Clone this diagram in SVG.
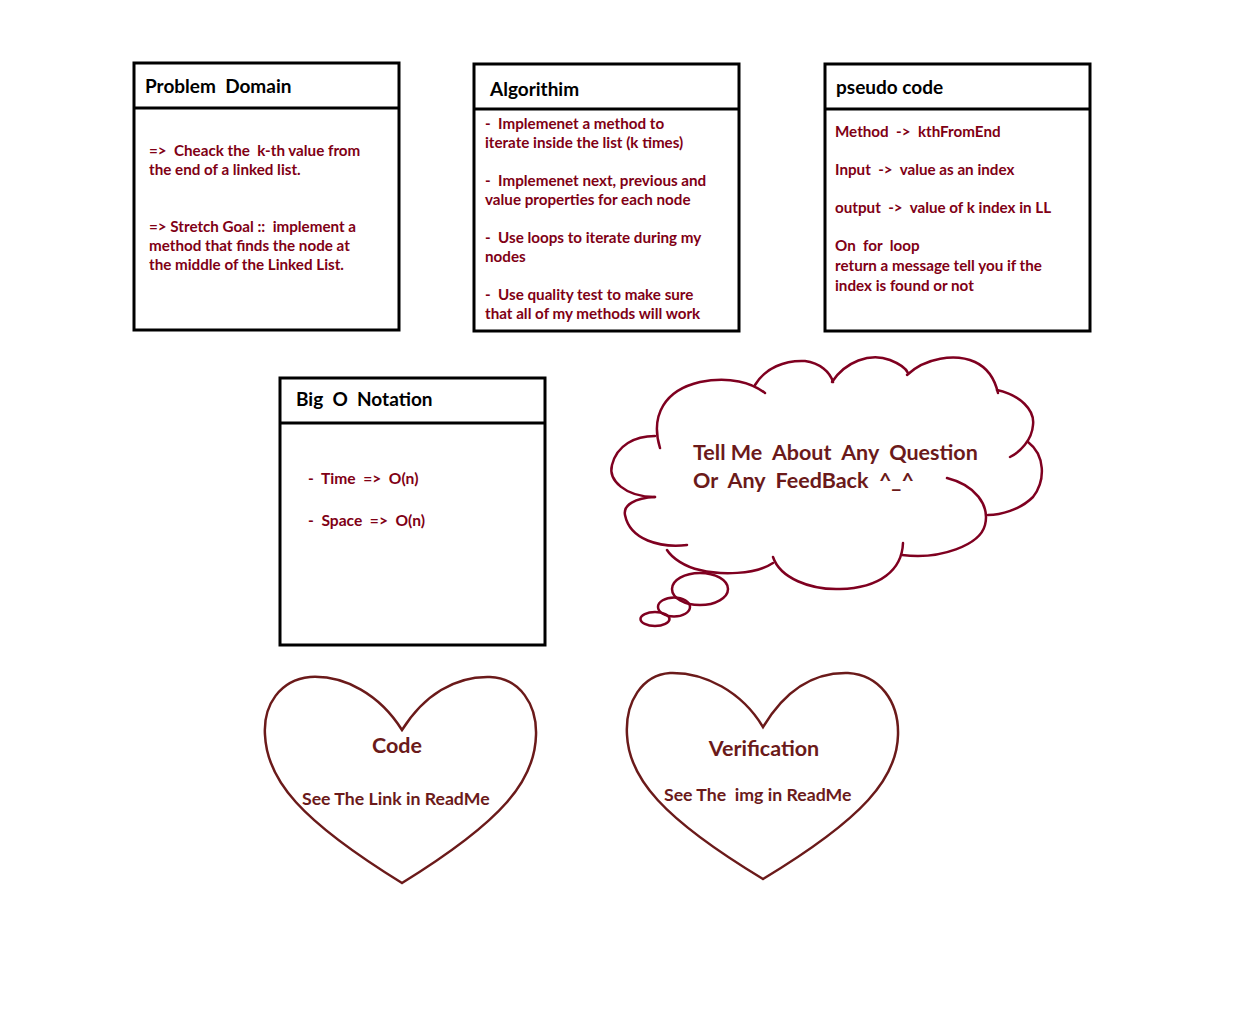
<svg xmlns="http://www.w3.org/2000/svg" width="1248" height="1024" viewBox="0 0 1248 1024">
  <style>
    text { font-family: Lato, "Open Sans", "Liberation Sans", sans-serif; font-weight: bold; white-space: pre; }
    .box { fill: #ffffff; stroke: #000000; stroke-width: 3; }
    .rule { stroke: #000000; stroke-width: 3; }
    .title { font-size: 19px; fill: #000000; }
    .body { font-size: 15.2px; fill: #800015; }
    .bigo { font-size: 15.6px; fill: #800015; }
    .cloud { fill: none; stroke: #7f0020; stroke-width: 2.5; stroke-linecap: round; }
    .heart { fill: none; stroke: #6b1a1a; stroke-width: 2.5; stroke-linejoin: miter; }
    .big { font-size: 21.5px; fill: #6b1a1a; }
    .sub { font-size: 17.7px; fill: #6b1a1a; }
  </style>
  <rect width="1248" height="1024" fill="#ffffff"/>

  <g id="problem-domain">
    <rect class="box" x="134" y="63" width="265" height="267"/>
    <line class="rule" x1="134" y1="108" x2="399" y2="108"/>
    <text class="title" x="145" y="93">Problem  Domain</text>
    <text class="body" x="149" y="156">=&gt;  Cheack the  k-th value from</text>
    <text class="body" x="149" y="175">the end of a linked list.</text>
    <text class="body" x="149" y="232">=&gt; Stretch Goal ::  implement a</text>
    <text class="body" x="149" y="251">method that finds the node at</text>
    <text class="body" x="149" y="270">the middle of the Linked List.</text>
  </g>

  <g id="algorithm">
    <rect class="box" x="474" y="64" width="265" height="267"/>
    <line class="rule" x1="474" y1="109" x2="739" y2="109"/>
    <text class="title" x="490" y="96">Algorithim</text>
    <text class="body" x="485" y="129">-  Implemenet a method to</text>
    <text class="body" x="485" y="148">iterate inside the list (k times)</text>
    <text class="body" x="485" y="186">-  Implemenet next, previous and</text>
    <text class="body" x="485" y="205">value properties for each node</text>
    <text class="body" x="485" y="243">-  Use loops to iterate during my</text>
    <text class="body" x="485" y="262">nodes</text>
    <text class="body" x="485" y="300">-  Use quality test to make sure</text>
    <text class="body" x="485" y="319">that all of my methods will work</text>
  </g>

  <g id="pseudo-code">
    <rect class="box" x="825" y="64" width="265" height="267"/>
    <line class="rule" x1="825" y1="109" x2="1090" y2="109"/>
    <text class="title" x="836" y="94">pseudo code</text>
    <text class="body" x="835" y="137">Method  -&gt;  kthFromEnd</text>
    <text class="body" x="835" y="175">Input  -&gt;  value as an index</text>
    <text class="body" x="835" y="213">output  -&gt;  value of k index in LL</text>
    <text class="body" x="835" y="251">On  for  loop</text>
    <text class="body" x="835" y="271">return a message tell you if the</text>
    <text class="body" x="835" y="291">index is found or not</text>
  </g>

  <g id="big-o">
    <rect class="box" x="280" y="378" width="265" height="267"/>
    <line class="rule" x1="280" y1="423" x2="545" y2="423"/>
    <text class="title" x="296" y="406">Big  O  Notation</text>
    <text class="bigo" x="308" y="484">-  Time  =&gt;  O(n)</text>
    <text class="bigo" x="308" y="526">-  Space  =&gt;  O(n)</text>
  </g>

  <g id="feedback-cloud">
    <path class="cloud" d="M660,448 C650,415 665,390 700,382 C730,376 752,383 765,393"/>
    <path class="cloud" d="M755,385 C765,368 785,360 805,361 C820,363 830,372 833,382"/>
    <path class="cloud" d="M832,382 C845,362 870,352 890,360 C900,364 906,368 908,373"/>
    <path class="cloud" d="M907,375 C925,358 955,353 975,362 C988,368 995,380 998,393"/>
    <path class="cloud" d="M997,390 C1020,395 1035,410 1033,425 C1032,440 1020,452 1010,457"/>
    <path class="cloud" d="M1028,442 C1045,455 1046,480 1033,497 C1020,510 1000,515 988,515"/>
    <path class="cloud" d="M947,478 C975,485 990,505 985,525 C980,545 940,560 902,555"/>
    <path class="cloud" d="M903,543 C902,570 880,588 840,589 C810,590 780,578 773,557"/>
    <path class="cloud" d="M773,563 C755,575 720,575 700,570 C685,567 672,558 667,550"/>
    <path class="cloud" d="M687,545 C660,548 630,540 625,515 C623,505 635,498 655,497"/>
    <path class="cloud" d="M655,497 C625,497 608,480 612,465 C617,445 635,436 655,436"/>
    <ellipse class="cloud" cx="700" cy="589" rx="28" ry="16"/>
    <ellipse class="cloud" cx="674" cy="607" rx="16" ry="9.5"/>
    <ellipse class="cloud" cx="655" cy="619" rx="14.5" ry="7"/>
    <text class="big" x="693" y="460">Tell Me  About  Any  Question</text>
    <text class="big" x="693" y="488">Or  Any  FeedBack  ^_^</text>
  </g>

  <g id="code-heart">
    <path class="heart" d="M402,730 C380,695 345,675 310,677 C280,680 263,705 265,735 C267,780 300,820 402,883 C504,820 535,780 536,735 C537,705 520,678 490,677 C455,676 424,695 402,730 Z"/>
    <text class="big" x="397" y="753" text-anchor="middle">Code</text>
    <text class="sub" x="302" y="805">See The Link in ReadMe</text>
  </g>

  <g id="verification-heart">
    <path class="heart" d="M763,727 C742,692 705,672 670,673 C642,675 625,702 627,735 C629,778 662,818 763,879 C864,818 897,778 898,735 C899,702 880,675 848,673 C812,672 784,692 763,727 Z"/>
    <text class="big" x="764" y="756" text-anchor="middle">Verification</text>
    <text class="sub" x="664" y="801">See The  img in ReadMe</text>
  </g>

  <g id="connectors"/>
</svg>
